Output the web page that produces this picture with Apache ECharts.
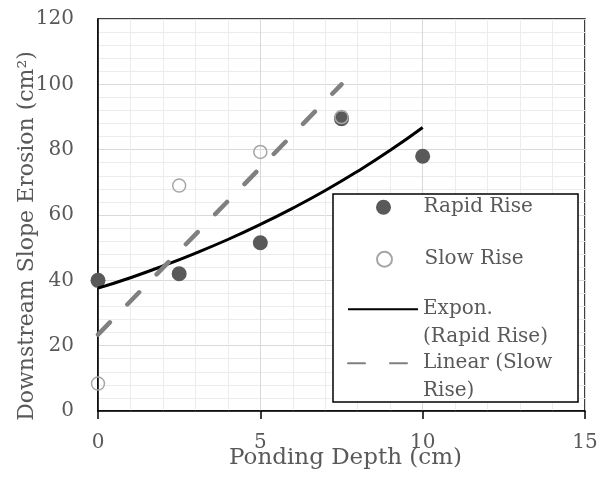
<!DOCTYPE html>
<html>
<head>
<meta charset="utf-8">
<script src="https://cdn.jsdelivr.net/npm/echarts@6/dist/echarts.min.js"></script>
<style>
  html, body { margin: 0; padding: 0; background: #fff; }
  #chart { width: 610px; height: 477px; }
</style>
</head>
<body>
<div id="chart"></div>
<script>
// values
var depth = [0, 2.5, 5, 7.5, 10];
var rapidRise = [40, 42, 51.5, 89.5, 78];
var slowDepth = [0, 2.5, 5, 7.5];
var slowRise = [8.4, 69, 79.3, 90];
// trendlines as drawn in the picture
var exponX = [0, 1, 2, 3, 4, 5, 6, 7, 8, 9, 10];
var exponY = [37.6, 40.8, 44.4, 48.3, 52.5, 57.1, 62.1, 67.5, 73.4, 79.8, 86.8];
var linearX = [0, 7.5];
var linearY = [23.4, 100];

var names = ['Rapid Rise', 'Slow Rise', 'Expon. (Rapid Rise)', 'Linear (Slow Rise)'];
var legendLabels = {
  'Rapid Rise': 'Rapid Rise',
  'Slow Rise': 'Slow Rise',
  'Expon. (Rapid Rise)': '\nExpon.\n(Rapid Rise)',
  'Linear (Slow Rise)': '\nLinear (Slow\nRise)'
};

function pairs(xs, ys) {
  return xs.map(function (x, i) { return [x, ys[i]]; });
}

var font = 'DejaVu Serif';
var grey = '#595959';

function legendAt(name, left, top, icon) {
  var item = { name: name };
  if (icon) item.icon = icon;
  return {
    data: [item],
    left: left,
    top: top,
    padding: 0,
    itemWidth: 70,
    itemHeight: 15,
    z: 5,
    selectedMode: false,
    formatter: function (n) { return legendLabels[n]; },
    itemStyle: icon ? {} : { opacity: 0 },
    textStyle: {
      fontFamily: font,
      fontSize: 20,
      color: grey,
      lineHeight: 27.5
    }
  };
}

var chartDom = document.getElementById('chart');
var myChart = echarts.init(chartDom);
var option;

option = {
  animation: false,
  backgroundColor: '#fff',
  grid: {
    left: 98,
    top: 19,
    right: 25,
    bottom: 66,
    outerBoundsMode: 'none',
    containLabel: false,
    show: true,
    borderColor: '#000',
    borderWidth: 1.5
  },
  xAxis: {
    type: 'value',
    min: 0,
    max: 15,
    interval: 5,
    name: 'Ponding Depth (cm)',
    nameLocation: 'middle',
    nameGap: 36,
    nameMoveOverlap: false,
    nameTextStyle: { fontFamily: font, fontSize: 23, color: grey, padding: [0, 0, 0, 8] },
    axisLine: { lineStyle: { color: '#000', width: 1.5 } },
    axisTick: { show: true, length: 8, lineStyle: { color: '#000', width: 1.5 } },
    axisLabel: { fontFamily: font, fontSize: 20, color: grey, margin: 22 },
    splitLine: { lineStyle: { color: '#d9d9d9', width: 1 } },
    minorTick: { show: false, splitNumber: 5 },
    minorSplitLine: { show: true, lineStyle: { color: '#ececec', width: 1 } }
  },
  yAxis: {
    type: 'value',
    min: 0,
    max: 120,
    interval: 20,
    name: 'Downstream Slope Erosion (cm²)',
    nameLocation: 'middle',
    nameGap: 60,
    nameMoveOverlap: false,
    nameTextStyle: { fontFamily: font, fontSize: 22, color: grey, padding: [0, 42, 0, 0] },
    axisLine: { show: true, lineStyle: { color: '#000', width: 1.5 } },
    axisTick: { show: false },
    axisLabel: { fontFamily: font, fontSize: 20, color: grey, margin: 24 },
    splitLine: { lineStyle: { color: '#d9d9d9', width: 1 } },
    minorTick: { show: false, splitNumber: 5 },
    minorSplitLine: { show: true, lineStyle: { color: '#ececec', width: 1 } }
  },
  graphic: [{
    type: 'rect',
    z: 3,
    shape: { x: 333, y: 194, width: 245, height: 208 },
    style: { fill: '#fff', stroke: '#000', lineWidth: 1.5 }
  }],
  legend: [
    legendAt(names[0], 376, 193.5, 'circle'),
    legendAt(names[1], 376, 245.5, 'circle'),
    legendAt(names[2], 347, 268, null),
    legendAt(names[3], 347, 322, null)
  ],
  series: [
    {
      name: names[0],
      type: 'scatter',
      symbol: 'circle',
      symbolSize: 15,
      itemStyle: { color: grey, opacity: 1 },
      data: pairs(depth, rapidRise),
      z: 2
    },
    {
      name: names[1],
      type: 'scatter',
      symbol: 'circle',
      symbolSize: 13,
      itemStyle: { color: 'rgba(255,255,255,0)', borderColor: '#a6a6a6', borderWidth: 1.5, opacity: 1 },
      data: pairs(slowDepth, slowRise),
      z: 2
    },
    {
      name: names[2],
      type: 'line',
      symbol: 'none',
      smooth: true,
      lineStyle: { color: '#000', width: 3 },
      itemStyle: { color: '#000' },
      data: pairs(exponX, exponY),
      z: 3
    },
    {
      name: names[3],
      type: 'line',
      symbol: 'none',
      lineStyle: { color: '#808080', width: 4.5, type: [17, 25], cap: 'round' },
      itemStyle: { color: '#808080' },
      data: pairs(linearX, linearY),
      z: 3
    }
  ]
};

option && myChart.setOption(option);
</script>
</body>
</html>
